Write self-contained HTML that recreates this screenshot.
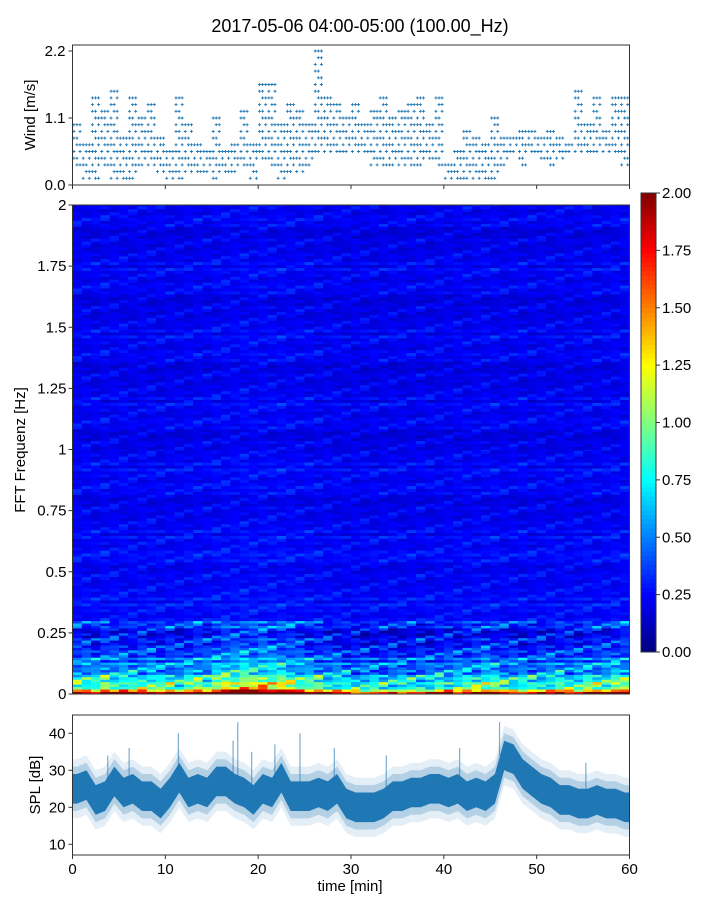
<!DOCTYPE html>
<html><head><meta charset="utf-8"><style>
body{margin:0;background:#fff;}
svg{display:block;font-family:"Liberation Sans","DejaVu Sans",sans-serif;}
</style></head><body>
<svg id="fig" width="720" height="900" viewBox="0 0 720 900">
<text x="360" y="32" text-anchor="middle" font-size="18">2017-05-06 04:00-05:00 (100.00_Hz)</text>
<g id="wind"></g>
<g id="spec"></g>
<g id="cbar"></g>
<g id="spl"></g>
</svg>
<script>
// ---- data ----
const minutes = [];for(let i=0;i<60;i++)minutes.push(i);
const windMax = [1.0,0.7,1.4,1.2,1.5,0.8,1.4,1.1,1.3,0.8,0.6,1.4,1.0,0.7,0.6,1.1,0.6,0.7,1.2,0.7,1.7,1.6,1.0,1.3,1.2,1.0,2.2,1.4,1.3,1.1,1.3,1.0,1.2,1.4,1.1,1.2,1.3,1.4,1.0,1.4,0.3,0.5,0.9,0.8,0.7,1.1,0.8,0.8,0.9,0.9,0.8,0.9,0.8,0.7,1.5,1.0,1.4,0.9,1.4,1.4];
const windMin = [0.3,0.1,0.1,0.3,0.1,0.1,0.1,0.3,0.3,0.2,0.1,0.1,0.2,0.2,0.2,0.1,0.2,0.2,0.3,0.1,0.4,0.3,0.1,0.2,0.2,0.3,0.6,0.6,0.5,0.5,0.6,0.5,0.3,0.3,0.3,0.3,0.3,0.3,0.4,0.3,0.1,0.1,0.1,0.1,0.1,0.1,0.3,0.5,0.3,0.5,0.4,0.3,0.4,0.5,0.6,0.5,0.5,0.5,0.5,0.3];
const splMid = [25,26,22,23,27,24,25,23,23,21,24,28,24,25,24,27,27,25,24,22,25,24,28,23,23,23,24,23,25,21,20,20,20,21,23,23,24,24,25,25,24,25,23,24,23,25,34,33,29,27,25,24,22,22,21,21,22,21,21,20];
const splSpikeT = [3.8,6.1,11.4,17.3,17.8,19.3,21.8,24.5,28.2,33.8,41.7,46.0,55.3];
const splSpikeV = [34,36,40,38,43,35,37,40,36,34,36,43,32];
const colFactor = [1.0,1.0,0.9,1.1,1.0,1.0,0.9,1.0,1.0,0.9,1.0,0.9,1.0,1.1,1.0,1.2,1.3,1.3,1.4,1.3,1.4,1.3,1.3,1.2,1.1,1.0,1.0,0.9,0.9,0.8,0.8,0.8,0.8,0.8,0.85,0.8,0.8,0.85,0.8,0.9,0.9,0.9,0.95,1.0,1.1,1.0,0.9,0.9,0.85,0.85,0.9,0.9,0.95,0.9,0.9,1.0,1.0,1.0,1.1,1.1];
const freqEdges = [0,0.01,0.02,0.03,0.04,0.05,0.06,0.08,0.1,0.12,0.15,0.2,0.3,0.6,1.0,2.0];
const freqLevel = [2.1,1.5,1.05,0.9,0.8,0.7,0.6,0.52,0.45,0.4,0.34,0.29,0.24,0.22,0.21];
const rowJitter = [0.05,-0.06,0.12,-0.02,0.0,-0.09,0.2,0.03,-0.04,0.08,-0.1,0.01,0.15,-0.05,0.06,-0.12,0.02,0.1,-0.03,0.25,-0.07,0.04,-0.01];
const windTicks=[0.0,1.1,2.2], splTicks=[10,20,30,40], xTicks=[0,10,20,30,40,50,60];
const specTicks=[0,0.25,0.5,0.75,1,1.25,1.5,1.75,2], specTickLabels=["0","0.25","0.5","0.75","1","1.25","1.5","1.75","2"];
const cbarTicks=[0,0.25,0.5,0.75,1,1.25,1.5,1.75,2];

const NS="http://www.w3.org/2000/svg";
function mk(p,t,a,txt){const e=document.createElementNS(NS,t);for(const k in a)e.setAttribute(k,a[k]);if(txt!==undefined)e.textContent=txt;p.appendChild(e);return e;}
const X0=72.5,X1=629.5;
const xs=t=>X0+(t/60)*(X1-X0);
const wy=v=>185-v*(185-51)/2.2;
const sy=v=>844.3-(v-10)*(844.3-733.3)/30;
const fy=f=>694-f*(694-205)/2;
function jet(t){t=Math.max(0,Math.min(1,t));const c=x=>Math.round(255*Math.max(0,Math.min(1,x)));return `rgb(${c(1.5-Math.abs(4*t-3))},${c(1.5-Math.abs(4*t-2))},${c(1.5-Math.abs(4*t-1))})`;}

// ---- wind ----
const W=document.getElementById('wind');
for(let i=0;i<60;i++){
  const kmin=Math.round(windMin[i]/0.11), kmax=Math.round(windMax[i]/0.11);
  for(let s=0;s<3;s++){
    const t=minutes[i]+s*0.33+0.15;
    for(let k=kmin;k<=kmax;k++){
      if((k+s+i)%3===0 && k<kmax) continue;
      const x=xs(t),y=wy(k*0.11);
      const p=mk(W,'path',{d:`M${x-1.5},${y}h3M${x},${y-1.5}v3`,stroke:'#1f77b4','stroke-width':0.9});
      
      
    }
  }
}
mk(W,'rect',{x:X0,y:45,width:X1-X0,height:140,fill:'none',stroke:'#333','stroke-width':1});
windTicks.forEach(v=>{mk(W,'line',{x1:X0-4,x2:X0,y1:wy(v),y2:wy(v),stroke:'#333'});mk(W,'text',{x:X0-7,y:wy(v)+5,'text-anchor':'end','font-size':15},v.toFixed(1));});
xTicks.forEach(v=>mk(W,'line',{x1:xs(v),x2:xs(v),y1:185,y2:189,stroke:'#333'}));
mk(W,'text',{x:35,y:115,'text-anchor':'middle','font-size':15,transform:'rotate(-90 35 115)',},'Wind [m/s]');

// ---- spectrogram ----
const S=document.getElementById('spec');
const cw=(X1-X0)/60;
for(let c=0;c<60;c++){
  let r=0;
  for(let b=0;b<freqLevel.length;b++){
    const step=freqEdges[b]<0.3?0.01:0.012;
    for(let f=freqEdges[b];f<freqEdges[b+1]-1e-6;f+=step){
      r++;
      const j=rowJitter[(r*7+c*3)%23]+rowJitter[(r*5)%23]*0.6;
      const low=freqEdges[b]<0.3;
      const boost=low?colFactor[c]:(1+(colFactor[c]-1)*0.2);
      const v=freqLevel[b]*boost+j*(low?(freqEdges[b]<0.1?1.8:1.2):0.45);
      const y1=fy(Math.min(f+step,freqEdges[b+1])),y0=fy(f);
      const cell=mk(S,'rect',{x:(X0+c*cw).toFixed(2),y:y1.toFixed(2),width:(cw+0.5).toFixed(2),height:(y0-y1+0.4).toFixed(2),fill:jet(v/2)});
      
      
    }
  }
}
mk(S,'rect',{x:X0,y:205,width:X1-X0,height:489,fill:'none',stroke:'#333','stroke-width':1});
specTicks.forEach((v,i)=>{mk(S,'line',{x1:X0-4,x2:X0,y1:fy(v),y2:fy(v),stroke:'#333'});mk(S,'text',{x:X0-6,y:fy(v)+5,'text-anchor':'end','font-size':15},specTickLabels[i]);});
mk(S,'text',{x:25,y:450,'text-anchor':'middle','font-size':15,transform:'rotate(-90 25 450)',},'FFT Frequenz [Hz]');

// ---- colorbar ----
const C=document.getElementById('cbar');
const cy=v=>652-v*(652-193)/2;
for(let k=0;k<100;k++){mk(C,'rect',{x:641,y:(cy((k+1)/50)).toFixed(2),width:15,height:(459/100+0.5).toFixed(2),fill:jet((k+0.5)/100)});}
mk(C,'rect',{x:641,y:193,width:15,height:459,fill:'none',stroke:'#333'});
cbarTicks.forEach(v=>{mk(C,'line',{x1:656,x2:660,y1:cy(v),y2:cy(v),stroke:'#333'});mk(C,'text',{x:662,y:cy(v)+5,'font-size':15},v.toFixed(2));});

// ---- SPL ----
const P=document.getElementById('spl');
function band(off,fill,op){
  let top=[],bot=[];
  for(let i=0;i<60;i++){top.push(`${xs(i+0.5).toFixed(1)},${sy(splMid[i]+off).toFixed(1)}`);bot.unshift(`${xs(i+0.5).toFixed(1)},${sy(splMid[i]-off).toFixed(1)}`);}
  top.unshift(`${xs(0)},${sy(splMid[0]+off)}`);top.push(`${xs(60)},${sy(splMid[59]+off)}`);
  bot.unshift(`${xs(60)},${sy(splMid[59]-off)}`);bot.push(`${xs(0)},${sy(splMid[0]-off)}`);
  const pg=mk(P,'polygon',{points:top.concat(bot).join(' '),fill:fill,'fill-opacity':op});
  
  
}
band(8,'#1f77b4',0.12);
band(6,'#1f77b4',0.25);
band(4,'#1f77b4',1);
splSpikeT.forEach((t,i)=>{
  const base=splMid[Math.min(59,Math.floor(t))];
  const sp=mk(P,'line',{x1:xs(t),x2:xs(t),y1:sy(splSpikeV[i]),y2:sy(base),stroke:'#1f77b4','stroke-width':1.2,'stroke-opacity':0.6});
  
  
});
mk(P,'rect',{x:X0,y:715,width:X1-X0,height:140,fill:'none',stroke:'#333','stroke-width':1});
splTicks.forEach(v=>{mk(P,'line',{x1:X0-4,x2:X0,y1:sy(v),y2:sy(v),stroke:'#333'});mk(P,'text',{x:X0-7,y:sy(v)+5,'text-anchor':'end','font-size':15},String(v));});
xTicks.forEach(v=>{mk(P,'line',{x1:xs(v),x2:xs(v),y1:855,y2:859,stroke:'#333'});mk(P,'text',{x:xs(v),y:874,'text-anchor':'middle','font-size':15},String(v));});
mk(P,'text',{x:40,y:785,'text-anchor':'middle','font-size':15,transform:'rotate(-90 40 785)',},'SPL [dB]');
mk(P,'text',{x:350,y:891,'text-anchor':'middle','font-size':15,},'time [min]');
</script>
</body></html>
